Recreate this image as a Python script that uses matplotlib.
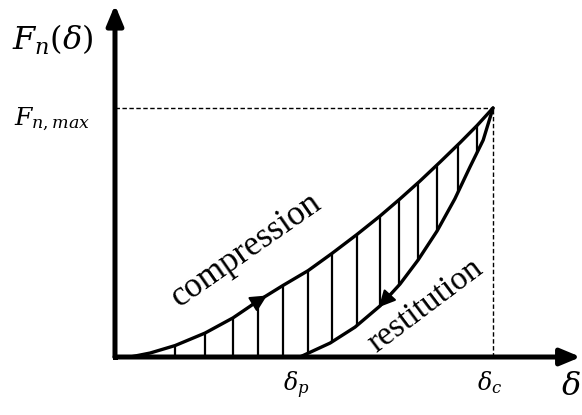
import matplotlib
matplotlib.use("Agg")
import matplotlib.pyplot as plt
from matplotlib.patches import Polygon

plt.rcParams["mathtext.fontset"] = "dejavuserif"
plt.rcParams["font.family"] = ["Liberation Serif", "DejaVu Serif"]

# Normalised displacement (delta / delta_c) and force (F / F_n,max)
comp_delta = [0.0, 0.040, 0.093, 0.159, 0.238, 0.312, 0.378, 0.444, 0.511, 0.574,
              0.640, 0.701, 0.754, 0.807, 0.860, 0.913, 0.958, 1.0]
comp_force = [0.0, 0.0, 0.016, 0.046, 0.096, 0.157, 0.225, 0.287, 0.347, 0.416,
              0.492, 0.566, 0.635, 0.707, 0.783, 0.861, 0.930, 1.0]

rest_delta = [0.489, 0.569, 0.635, 0.701, 0.754, 0.802, 0.852, 0.899, 0.939, 0.974, 1.0]
rest_force = [0.0, 0.056, 0.120, 0.205, 0.293, 0.390, 0.506, 0.635, 0.763, 0.871, 1.0]

# Positions of the vertical hatch lines marking the dissipated energy
hatch_delta = [0.159, 0.238, 0.312, 0.378, 0.444, 0.511, 0.574, 0.640, 0.701,
               0.751, 0.802, 0.852, 0.907, 0.958]

fig = plt.figure(figsize=(5.82, 4.15), dpi=100)
ax = fig.add_axes([0, 0, 1, 1])
ax.set_xlim(-0.3042, 1.2354)
ax.set_ylim(-0.2329, 1.4337)
ax.axis("off")

# Region enclosed by the loading and unloading curves
loop = list(zip(comp_delta, comp_force)) + list(zip(rest_delta[::-1], rest_force[::-1]))
region = Polygon(loop, closed=True, facecolor="none", edgecolor="none")
ax.add_patch(region)
hl = ax.vlines(hatch_delta, 0, 1.05, colors="black", lw=1.6)
hl.set_clip_path(region)

# Curves
ax.plot(comp_delta, comp_force, color="black", lw=2.4, solid_capstyle="round")
ax.plot(rest_delta, rest_force, color="black", lw=2.4, solid_capstyle="round")

# Direction arrows on the curves
head = dict(arrowstyle="-|>,head_length=1.0,head_width=0.5",
            color="black", lw=1.5, mutation_scale=10, shrinkA=0, shrinkB=0)
ax.annotate("", xy=(0.402, 0.247), xytext=(0.36, 0.208), arrowprops=head)
ax.annotate("", xy=(0.698, 0.200), xytext=(0.74, 0.27), arrowprops=head)

# Dashed guides to the peak
ax.plot([0, 1], [1, 1], color="black", lw=1.0, dashes=(3.2, 1.8))
ax.plot([1, 1], [0, 1], color="black", lw=1.0, dashes=(3.2, 1.8))

# Axes with arrowheads, joined by a square corner at the origin
arrow_style = dict(arrowstyle="-|>,head_length=1.2,head_width=0.5",
                   color="black", lw=3.6, mutation_scale=10,
                   shrinkA=0, shrinkB=0)
ax.annotate("", xy=(0, 1.414), xytext=(0, 0), arrowprops=arrow_style)
ax.annotate("", xy=(1.232, 0), xytext=(0, 0), arrowprops=arrow_style)
ax.plot([0], [0], marker="s", ms=3.6, color="black", mew=0)

# Labels
ax.text(-0.272, 1.273, r"$F_n(\delta)$", fontsize=23, ha="left", va="center")
ax.text(-0.267, 0.955, r"$F_{n,max}$", fontsize=18, ha="left", va="center")
ax.text(0.479, -0.112, r"$\delta_p$", fontsize=17, ha="center", va="center")
ax.text(0.992, -0.104, r"$\delta_c$", fontsize=17, ha="center", va="center")
ax.text(1.206, -0.124, r"$\delta$", fontsize=23, ha="center", va="center")

ax.text(0.347, 0.43, "compression", fontsize=25, rotation=35,
        ha="center", va="center", rotation_mode="anchor")
ax.text(0.822, 0.207, "restitution", fontsize=24, rotation=37,
        ha="center", va="center", rotation_mode="anchor")

fig.savefig("out.png", dpi=100)
